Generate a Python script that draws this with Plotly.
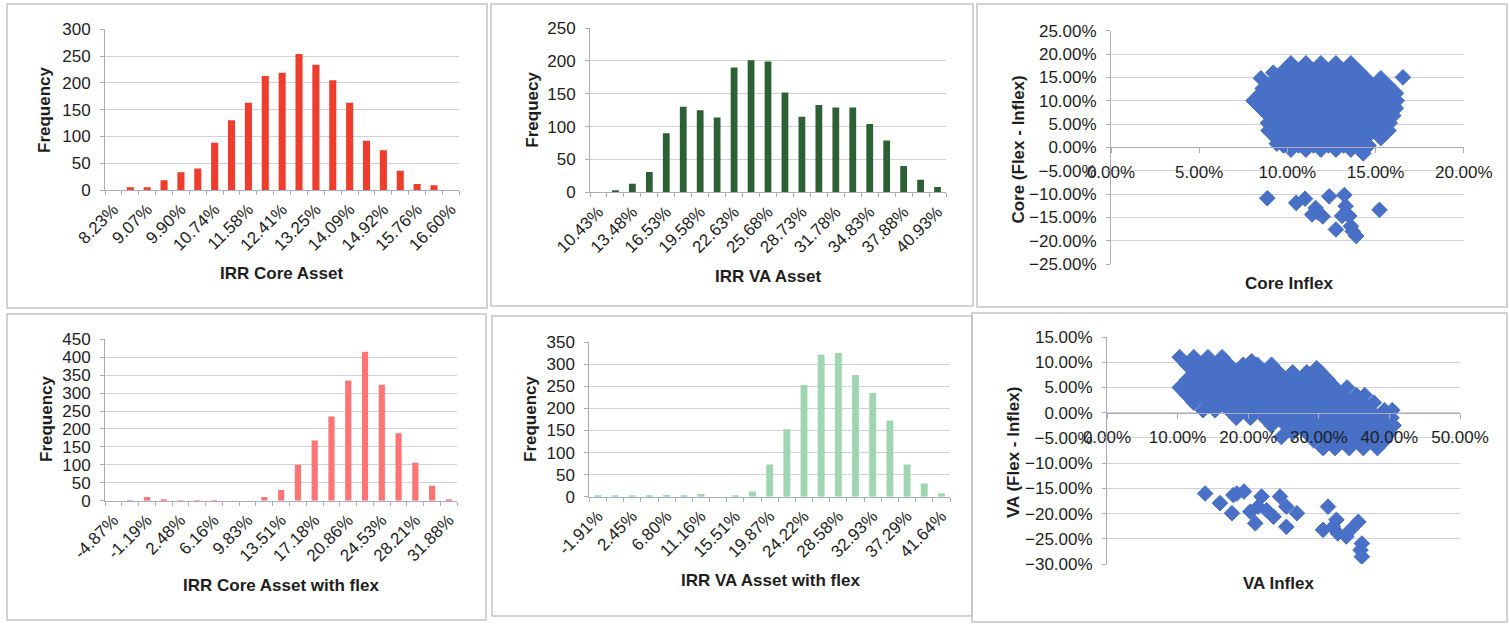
import plotly.graph_objects as go

W, H = 1509, 625

# ---------------- data ----------------
core_bins = ["8.23%", "8.65%", "9.07%", "9.49%", "9.90%", "10.32%", "10.74%", "11.16%",
             "11.58%", "12.00%", "12.41%", "12.83%", "13.25%", "13.67%", "14.09%", "14.51%",
             "14.92%", "15.34%", "15.76%", "16.18%", "16.60%"]
core_freq = [0, 5, 5, 18, 33, 40, 88, 130, 163, 213, 219, 254, 234, 205, 163, 92, 74, 36, 11, 9, 0]

va_bins = ["10.43%", "11.96%", "13.48%", "15.01%", "16.53%", "18.06%", "19.58%", "21.11%",
           "22.63%", "24.16%", "25.68%", "27.21%", "28.73%", "30.26%", "31.78%", "33.31%",
           "34.83%", "36.36%", "37.88%", "39.41%", "40.93%"]
va_freq = [0, 3, 13, 31, 90, 130, 125, 114, 190, 201, 199, 152, 115, 133, 129, 129, 104, 79, 40, 19, 8]

core_flex_bins = ["-4.87%", "-3.03%", "-1.19%", "0.64%", "2.48%", "4.32%", "6.16%", "7.99%",
                  "9.83%", "11.67%", "13.51%", "15.34%", "17.18%", "19.02%", "20.86%", "22.69%",
                  "24.53%", "26.37%", "28.21%", "30.04%", "31.88%"]
core_flex_freq = [0, 1, 10, 2, 1, 1, 1, 0, 0, 10, 30, 100, 168, 235, 335, 415, 323, 188, 106, 42, 3]

va_flex_bins = ["-1.91%", "0.27%", "2.45%", "4.62%", "6.80%", "8.98%", "11.16%", "13.33%",
                "15.51%", "17.69%", "19.87%", "22.04%", "24.22%", "26.40%", "28.58%", "30.75%",
                "32.93%", "35.11%", "37.29%", "39.46%", "41.64%"]
va_flex_freq = [1, 1, 2, 3, 4, 3, 6, 0, 2, 12, 73, 153, 253, 322, 326, 276, 235, 173, 73, 30, 8]

# scatter: (Core Inflex %, Core Flex - Inflex %)
core_scatter = [
    (10.2, 18.0), (11.05, 18.0), (11.9, 18.0), (12.75, 18.0), (13.6, 18.0),
    (9.2, 16.0), (9.78, 16.4), (10.63, 16.4), (11.48, 16.4), (12.33, 16.4), (13.18, 16.4),
    (14.03, 16.4),
    (8.5, 14.8), (9.35, 14.8), (10.2, 14.8), (11.05, 14.8), (11.9, 14.8), (12.75, 14.8),
    (13.6, 14.8), (14.45, 14.8), (15.3, 14.8),
    (8.6, 12.6), (8.93, 13.2), (9.78, 13.2), (10.63, 13.2), (11.48, 13.2), (12.33, 13.2),
    (13.18, 13.2), (14.03, 13.2), (14.88, 13.2), (15.73, 13.2),
    (8.5, 11.6), (9.35, 11.6), (10.2, 11.6), (11.05, 11.6), (11.9, 11.6), (12.75, 11.6),
    (13.6, 11.6), (14.45, 11.6), (15.3, 11.6), (16.15, 11.6),
    (8.08, 10.0), (8.93, 10.0), (9.78, 10.0), (10.63, 10.0), (11.48, 10.0), (12.33, 10.0),
    (13.18, 10.0), (14.03, 10.0), (14.88, 10.0), (15.73, 10.0), (16.2, 10.0),
    (8.5, 8.4), (9.35, 8.4), (10.2, 8.4), (11.05, 8.4), (11.9, 8.4), (12.75, 8.4),
    (13.6, 8.4), (14.45, 8.4), (15.3, 8.4), (16.15, 8.4),
    (8.93, 6.8), (9.78, 6.8), (10.63, 6.8), (11.48, 6.8), (12.33, 6.8), (13.18, 6.8),
    (14.03, 6.8), (14.88, 6.8), (15.73, 6.8), (16.0, 6.8),
    (8.9, 5.2), (9.35, 5.2), (10.2, 5.2), (11.05, 5.2), (11.9, 5.2), (12.75, 5.2),
    (13.6, 5.2), (14.45, 5.2), (15.3, 5.2), (15.8, 5.2),
    (8.93, 3.6), (9.78, 3.6), (10.63, 3.6), (11.48, 3.6), (12.33, 3.6), (13.18, 3.6),
    (14.03, 3.6), (14.88, 3.6), (15.73, 3.6),
    (9.35, 2.0), (10.2, 2.0), (11.05, 2.0), (11.9, 2.0), (12.75, 2.0), (13.6, 2.0),
    (14.45, 2.0), (15.3, 2.0),
    (9.4, 0.8), (9.78, 0.4), (10.63, 0.4), (11.48, 0.4), (12.33, 0.4), (13.18, 0.4),
    (14.03, 0.4), (14.6, 0.4),
    (10.2, -0.5), (11.05, -0.5), (11.9, -0.5), (12.75, -0.5), (13.6, -0.5), (14.3, -1.3),
    (16.55, 15.0),
    (8.86, -10.9), (10.5, -11.9), (11.0, -11.0), (11.6, -13.0), (12.0, -14.8), (11.4, -14.4),
    (11.7, -13.9), (12.37, -10.5), (13.23, -10.2), (13.3, -12.6), (13.1, -14.7), (13.5, -14.7),
    (13.6, -16.9), (12.75, -17.6), (13.7, -18.0), (13.9, -19.0), (15.22, -13.4),
]

# scatter: (VA Inflex %, VA Flex - Inflex %)
va_scatter = [
    (10.3, 11.0), (12.3, 11.0), (14.3, 11.0), (16.3, 11.0), (20.5, 10.2),
    (11.3, 9.5), (13.3, 9.5), (15.3, 9.5), (17.3, 9.5), (19.3, 9.5), (21.3, 9.5), (23.3, 9.5),
    (29.7, 8.8),
    (12.3, 8.0), (14.3, 8.0), (16.3, 8.0), (18.3, 8.0), (20.3, 8.0), (22.3, 8.0), (24.3, 8.0),
    (26.3, 8.0), (28.3, 8.0), (30.3, 8.0),
    (11.3, 6.5), (13.3, 6.5), (15.3, 6.5), (17.3, 6.5), (19.3, 6.5), (21.3, 6.5), (23.3, 6.5),
    (25.3, 6.5), (27.3, 6.5), (29.3, 6.5), (31.3, 6.5),
    (10.3, 5.0), (12.3, 5.0), (14.3, 5.0), (16.3, 5.0), (18.3, 5.0), (20.3, 5.0), (22.3, 5.0),
    (24.3, 5.0), (26.3, 5.0), (28.3, 5.0), (30.3, 5.0), (32.3, 5.0), (34.0, 5.0),
    (11.3, 3.5), (13.3, 3.5), (15.3, 3.5), (17.3, 3.5), (19.3, 3.5), (21.3, 3.5), (23.3, 3.5),
    (25.3, 3.5), (27.3, 3.5), (29.3, 3.5), (31.3, 3.5), (33.3, 3.5), (35.3, 3.5), (36.5, 3.5),
    (12.3, 2.0), (14.3, 2.0), (16.3, 2.0), (18.3, 2.0), (20.3, 2.0), (22.3, 2.0), (24.3, 2.0),
    (26.3, 2.0), (28.3, 2.0), (30.3, 2.0), (32.3, 2.0), (34.3, 2.0), (36.3, 2.0), (37.8, 2.0),
    (13.6, 0.5), (15.3, 0.5), (17.3, 0.5), (19.3, 0.5), (21.3, 0.5), (23.3, 0.5), (25.3, 0.5),
    (27.3, 0.5), (29.3, 0.5), (31.3, 0.5), (33.3, 0.5), (35.3, 0.5), (37.3, 0.5), (39.3, 0.5),
    (40.4, 0.5),
    (18.3, -1.0), (20.3, -1.0), (22.3, -1.0), (24.3, -1.0), (26.3, -1.0), (28.3, -1.0),
    (30.3, -1.0), (32.3, -1.0), (34.3, -1.0), (36.3, -1.0), (38.3, -1.0), (40.3, -1.0),
    (23.3, -2.5), (25.3, -2.5), (27.3, -2.5), (29.3, -2.5), (31.3, -2.5), (33.3, -2.5),
    (35.3, -2.5), (37.3, -2.5), (39.3, -2.5), (40.6, -2.5),
    (24.7, -4.8), (26.3, -4.0), (28.3, -4.0), (30.3, -4.0), (32.3, -4.0), (34.3, -4.0),
    (36.3, -4.0), (38.3, -4.0), (40.0, -4.0),
    (29.3, -5.5), (31.3, -5.5), (33.3, -5.5), (35.3, -5.5), (37.3, -5.5), (39.3, -5.5),
    (30.6, -7.0), (32.3, -7.0), (34.3, -7.0), (36.3, -7.0), (38.3, -7.0),
    (13.9, -16.0), (16.0, -17.9), (17.7, -19.9), (17.9, -16.3), (18.4, -16.0), (19.4, -15.6),
    (20.3, -19.6), (21.0, -21.9), (21.4, -18.6), (21.9, -16.6), (22.6, -19.3), (23.6, -20.6),
    (24.5, -16.6), (25.4, -18.6), (25.4, -22.6), (26.9, -19.9),
    (31.3, -18.6), (30.6, -23.2), (32.0, -22.6), (32.5, -21.2), (32.7, -23.9), (33.9, -24.5),
    (34.5, -23.2), (35.6, -21.6), (36.1, -25.9), (35.9, -27.2), (36.1, -28.5),
]

# ---------------- styling ----------------
FONT = "Liberation Sans, Arial, sans-serif"
GRID = "#cfd0e0"
AXIS = "#a9abc4"
TXT = "#1e1e1e"
BLUE = "#4870c6"


def fx(p):
    return p / W


def fy(p):
    return 1 - p / H


fig = go.Figure()
layout = dict(
    width=W, height=H, margin=dict(l=0, r=0, t=0, b=0, autoexpand=False),
    paper_bgcolor="white", plot_bgcolor="white", showlegend=False,
    font=dict(family=FONT, size=17, color=TXT),
    annotations=[], shapes=[],
)

hists = [
    # id, bins, freq, color, bar width, x px domain, y px domain (top, bottom), ymax
    ("", core_bins, core_freq, "#ee3d2c", 0.42, (105, 459.3), (29.3, 190.0), 300),
    ("2", va_bins, va_freq, "#2e6036", 0.40, (590, 946), (28.0, 192.3), 250),
    ("4", core_flex_bins, core_flex_freq, "#ff7474", 0.37, (105, 457.3), (339.3, 500.7), 450),
    ("5", va_flex_bins, va_flex_freq, "#9fd6b1", 0.40, (589.3, 950), (342.3, 496.7), 350),
]

for aid, bins, freq, color, bw, xd, yd, ymax in hists:
    fig.add_trace(go.Bar(x=bins, y=freq, marker=dict(color=color, line=dict(width=0)),
                         width=bw, xaxis="x" + aid, yaxis="y" + aid))
    shown = [b if i % 2 == 0 else "" for i, b in enumerate(bins)]
    layout["xaxis" + aid] = dict(
        domain=[fx(xd[0]), fx(xd[1])], anchor="y" + aid, type="category",
        categoryorder="array", categoryarray=bins, automargin=False,
        range=[-0.5, len(bins) - 0.5],
        tickmode="array", tickvals=bins, ticktext=shown, tickangle=-45,
        tickson="boundaries", ticks="outside", ticklen=4, tickcolor=AXIS,
        showline=True, linecolor=AXIS, linewidth=1, showgrid=False,
        zeroline=False, ticklabelstandoff=2,
        tickfont=dict(family=FONT, size=17, color=TXT),
    )
    layout["yaxis" + aid] = dict(
        domain=[fy(yd[1]), fy(yd[0])], anchor="x" + aid, range=[0, ymax], dtick=50,
        showline=True, linecolor=AXIS, linewidth=1, ticks="outside", ticklen=4,
        tickcolor=AXIS, showgrid=True, gridcolor=GRID, gridwidth=1, zeroline=False,
        ticklabelstandoff=6, automargin=False,
        tickfont=dict(family=FONT, size=17, color=TXT),
    )

scats = [
    ("3", core_scatter, (1111, 1463.8), (30.7, 264.0), (0, 20), 5, (-25, 25)),
    ("6", va_scatter, (1107, 1460), (337.0, 564.2), (0, 50), 10, (-30, 15)),
]

for aid, pts, xd, yd, xr, xdt, yr in scats:
    xs = [p[0] for p in pts]
    ys = [p[1] for p in pts]
    fig.add_trace(go.Scatter(x=xs, y=ys, mode="markers", xaxis="x" + aid, yaxis="y" + aid,
                             marker=dict(symbol="diamond", size=12, color=BLUE,
                                         line=dict(width=1, color=BLUE))))
    y0, y1 = fy(yd[1]), fy(yd[0])
    pos = y0 + (0 - yr[0]) / (yr[1] - yr[0]) * (y1 - y0)
    layout["xaxis" + aid] = dict(
        domain=[fx(xd[0]), fx(xd[1])], anchor="free", position=pos, range=list(xr),
        dtick=xdt, tick0=0, tickformat=".2f", ticksuffix="%", showgrid=False,
        showline=True, linecolor=AXIS, linewidth=1, ticks="outside", ticklen=5,
        tickcolor=AXIS, zeroline=False, ticklabelstandoff=4, automargin=False,
        tickfont=dict(family=FONT, size=17, color=TXT),
    )
    layout["yaxis" + aid] = dict(
        domain=[y0, y1], anchor="x" + aid, range=list(yr), dtick=5, tick0=0,
        tickformat=".2f", ticksuffix="%", showline=True, linecolor=AXIS, linewidth=1,
        ticks="outside", ticklen=4, tickcolor=AXIS, showgrid=True, gridcolor=GRID,
        zeroline=False, ticklabelstandoff=6, automargin=False,
        tickfont=dict(family=FONT, size=17, color=TXT),
    )

# panel frames
frames = [(7, 4, 487, 308), (491, 4, 973, 306), (977, 4, 1507, 307),
          (7, 314, 486, 620), (492, 316, 972, 616), (972, 313, 1507, 622)]
for x0, y0, x1, y1 in frames:
    layout["shapes"].append(dict(type="rect", xref="paper", yref="paper",
                                 x0=fx(x0), x1=fx(x1), y0=fy(y1), y1=fy(y0),
                                 line=dict(color="#c4c4c8", width=1.5)))

titles = [
    ("IRR Core Asset", 281.7, 273, 0),
    ("Frequency", 45, 110, -90),
    ("IRR VA Asset", 768, 276, 0),
    ("Frequecy", 532.7, 110, -90),
    ("Core Inflex", 1289, 283, 0),
    ("Core (Flex - Inflex)", 1017.6, 150, -90),
    ("IRR Core Asset with flex", 281, 585, 0),
    ("Frequency", 46, 419, -90),
    ("IRR VA Asset with flex", 770, 580, 0),
    ("Frequency", 530, 419, -90),
    ("VA Inflex", 1278, 583, 0),
    ("VA (Flex - Inflex)", 1013, 453, -90),
]
for text, x, y, ang in titles:
    layout["annotations"].append(dict(
        text="<b>%s</b>" % text, x=fx(x), y=fy(y), xref="paper", yref="paper",
        showarrow=False, textangle=ang, xanchor="center", yanchor="middle",
        font=dict(family=FONT, size=17, color=TXT)))

fig.update_layout(**layout)
fig.write_html("out.html", config={"displayModeBar": False},
               post_script="document.body.style.margin='0';")
